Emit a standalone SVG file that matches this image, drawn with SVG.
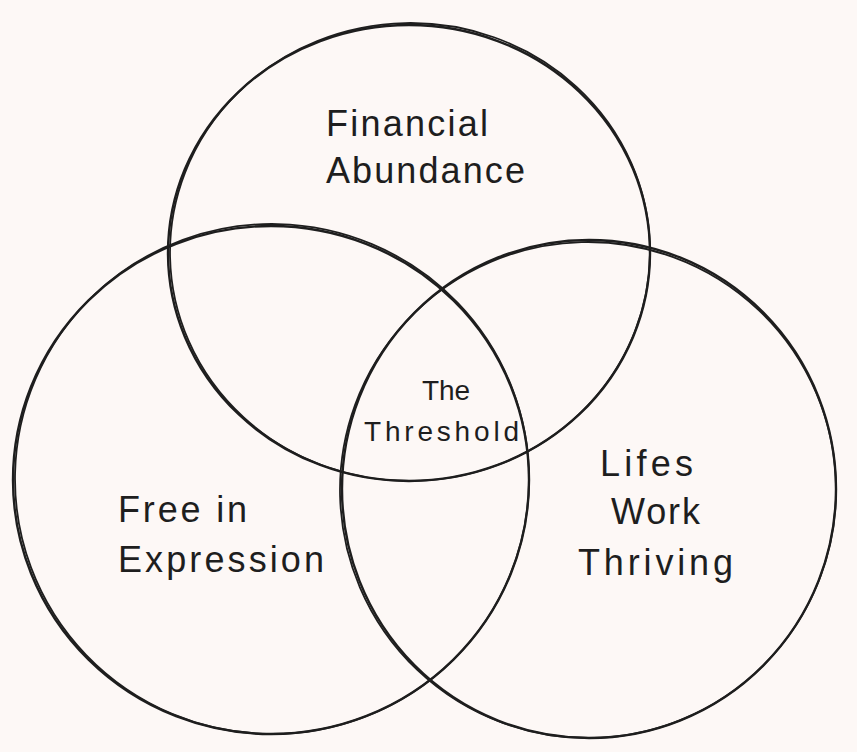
<svg xmlns="http://www.w3.org/2000/svg" width="857" height="752" viewBox="0 0 857 752">
<style>
.c{fill:none;stroke:#1e1e1e;stroke-width:2.4;stroke-linecap:round}
.c2{fill:none;stroke:#1e1e1e;stroke-width:1.8;stroke-linecap:round}
.t{font-family:"Liberation Sans","Noto Sans",sans-serif;fill:#1e1e1e;font-size:36px}
.s{font-size:28px}
</style>
<rect width="857" height="752" fill="#fdf8f6"/>
<g id="connectors"/>
<g id="financial">
<ellipse class="c" cx="409" cy="253" rx="241" ry="228"/>
<ellipse class="c2" cx="410" cy="252" rx="240" ry="229" transform="rotate(-1.2 410 252)"/>
<text class="t" x="326" y="136" textLength="162" lengthAdjust="spacing">Financial</text>
<text class="t" x="326" y="183" textLength="199" lengthAdjust="spacing">Abundance</text>
</g>
<g id="expression">
<ellipse class="c" cx="271" cy="480" rx="258" ry="254"/>
<ellipse class="c2" cx="272" cy="479" rx="257" ry="255" transform="rotate(1.3 272 479)"/>
<text class="t" x="118" y="522" textLength="129" lengthAdjust="spacing">Free in</text>
<text class="t" x="118" y="572" textLength="206" lengthAdjust="spacing">Expression</text>
</g>
<g id="lifeswork">
<ellipse class="c" cx="589" cy="489" rx="247" ry="249"/>
<ellipse class="c2" cx="588" cy="490" rx="248" ry="248" transform="rotate(-1.5 588 490)"/>
<text class="t" x="600" y="476" textLength="93" lengthAdjust="spacing">Lifes</text>
<text class="t" x="611" y="524" textLength="89" lengthAdjust="spacing">Work</text>
<text class="t" x="578" y="575" textLength="155" lengthAdjust="spacing">Thriving</text>
</g>
<g id="threshold">
<text class="t s" x="446" y="400" text-anchor="middle">The</text>
<text class="t s" x="364" y="441" textLength="155" lengthAdjust="spacing">Threshold</text>
</g>
</svg>
